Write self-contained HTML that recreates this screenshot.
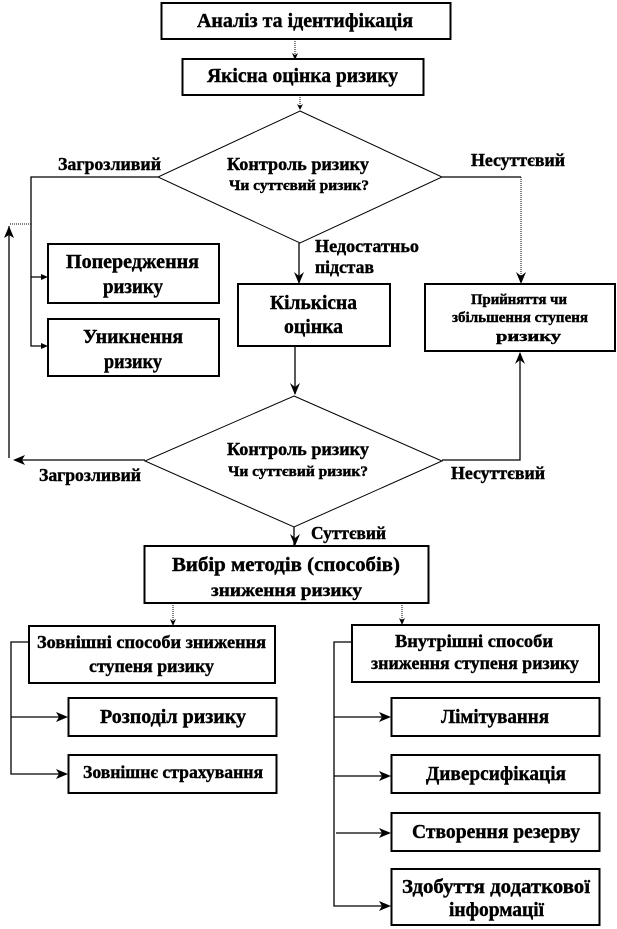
<!DOCTYPE html>
<html><head><meta charset="utf-8">
<style>
html,body{margin:0;padding:0;background:#fff;width:617px;height:929px;overflow:hidden}
svg{display:block}
text{font-family:"Liberation Serif","DejaVu Serif",serif;font-weight:bold;fill:#000;stroke:#000;stroke-width:.4}
.a{font-size:20px}.b{font-size:18px}.c{font-size:15px}
rect{fill:#fff;stroke:#000;stroke-width:2}
.l{fill:none;stroke:#000;stroke-width:1.3}
.t{fill:none;stroke:#000;stroke-width:1;stroke-dasharray:1 1}
.d{fill:#fff;stroke:#000;stroke-width:1}
.h{fill:#000;stroke:none}
</style></head><body>
<svg width="617" height="929" viewBox="0 0 617 929" xmlns="http://www.w3.org/2000/svg">
<!-- connectors -->
<path class="t" d="M295 39V58M300 97V109"/>
<path class="h" d="M295 60l-3-7 3 2 3-2zM300 110l-3-6 3 2 3-2z"/>
<path class="l" d="M158 177H31V346H46M31 277H46M9 226V458"/>
<path class="t" d="M31 224H9"/>
<path class="h" d="M48 277l-7-3v6zM48 346l-7-3v6zM9 226l-5 12 5-3 5 3z"/>
<path class="l" d="M299 243V283M442 177H521"/>
<path class="t" d="M521 177V283"/>
<path class="h" d="M299 284l-5-12 5 4 5-4zM521 284l-5-12 5 4 5-4z"/>
<path class="l" d="M295 346V394M294 527V545M145 460H16M442 460H520V353"/>
<path class="h" d="M295 395l-5-12 5 4 5-4zM295 546l-5-12 5 4 5-4zM13 460l12-5-3 5 3 5zM520 352l-5 12 5-4 5 4z"/>
<path class="t" d="M173 603V625M402 603V624"/>
<path class="h" d="M173 626l-3-7 3 2 3-2zM402 625l-3-7 3 2 3-2z"/>
<path class="l" d="M29 642H11V774H66M11 717H66M352 642H334V906H389M334 717H389M334 776H389M336 833H389"/>
<path class="h" d="M68 717l-12-5 3 5-3 5zM68 774l-12-5 3 5-3 5zM391 717l-12-5 3 5-3 5zM391 776l-12-5 3 5-3 5zM391 833l-12-5 3 5-3 5zM391 906l-12-5 3 5-3 5z"/>
<!-- diamonds -->
<polygon class="d" points="300,111 442,177 300,243 158,177"/>
<polygon class="d" points="294,396 442,461 294,527 145,461"/>
<!-- boxes -->
<rect x="161.500" y="3" width="289" height="36"/>
<rect x="182.500" y="59" width="241" height="36"/>
<rect x="48" y="244" width="171" height="59"/>
<rect x="48" y="319" width="171" height="57"/>
<rect x="238" y="284" width="152" height="62"/>
<rect x="425" y="284" width="190" height="67"/>
<rect x="144.500" y="546" width="284" height="57"/>
<rect x="29" y="626" width="246" height="57"/>
<rect x="352" y="625" width="247" height="57"/>
<rect x="68.500" y="698" width="208" height="38"/>
<rect x="68.500" y="755" width="208" height="38"/>
<rect x="391.500" y="698" width="208" height="38"/>
<rect x="391.500" y="755" width="208" height="38"/>
<rect x="391.500" y="813" width="208" height="38"/>
<rect x="391.500" y="869" width="208" height="56"/>
<!-- labels -->
<text class="a" x="197" y="27" textLength="216" lengthAdjust="spacingAndGlyphs">Аналіз  та ідентифікація</text>
<text class="a" x="207" y="82" textLength="191" lengthAdjust="spacingAndGlyphs">Якісна оцінка ризику</text>
<text class="b" x="227" y="170" textLength="142" lengthAdjust="spacingAndGlyphs">Контроль ризику</text>
<text class="c" x="229" y="190" textLength="140" lengthAdjust="spacingAndGlyphs">Чи суттєвий  ризик?</text>
<text class="b" x="58" y="170" textLength="103" lengthAdjust="spacingAndGlyphs">Загрозливий</text>
<text class="b" x="471" y="166" textLength="94" lengthAdjust="spacingAndGlyphs">Несуттєвий</text>
<text class="b" x="315" y="252" textLength="104" lengthAdjust="spacingAndGlyphs">Недостатньо</text>
<text class="b" x="315" y="273" textLength="59" lengthAdjust="spacingAndGlyphs">підстав</text>
<text class="a" x="66" y="268" textLength="133" lengthAdjust="spacingAndGlyphs">Попередження</text>
<text class="a" x="103" y="293" textLength="60" lengthAdjust="spacingAndGlyphs">ризику</text>
<text class="a" x="270" y="309" textLength="87" lengthAdjust="spacingAndGlyphs">Кількісна</text>
<text class="a" x="284" y="333" textLength="59" lengthAdjust="spacingAndGlyphs">оцінка</text>
<text class="c" x="471" y="304" textLength="96" lengthAdjust="spacingAndGlyphs">Прийняття чи</text>
<text class="c" x="452" y="322" textLength="136" lengthAdjust="spacingAndGlyphs">збільшення  ступеня</text>
<text class="c" x="496" y="341" textLength="65" lengthAdjust="spacingAndGlyphs">ризику</text>
<text class="a" x="83" y="343" textLength="100" lengthAdjust="spacingAndGlyphs">Уникнення</text>
<text class="a" x="104" y="368" textLength="58" lengthAdjust="spacingAndGlyphs">ризику</text>
<text class="b" x="227" y="455" textLength="142" lengthAdjust="spacingAndGlyphs">Контроль ризику</text>
<text class="c" x="228" y="476" textLength="140" lengthAdjust="spacingAndGlyphs">Чи суттєвий  ризик?</text>
<text class="b" x="39" y="481" textLength="102" lengthAdjust="spacingAndGlyphs">Загрозливий</text>
<text class="b" x="451" y="479" textLength="94" lengthAdjust="spacingAndGlyphs">Несуттєвий</text>
<text class="b" x="311" y="539" textLength="75" lengthAdjust="spacingAndGlyphs">Суттєвий</text>
<text class="a" x="172" y="571" textLength="228" lengthAdjust="spacingAndGlyphs">Вибір методів (способів)</text>
<text class="b" x="211" y="596" textLength="151" lengthAdjust="spacingAndGlyphs">зниження  ризику</text>
<text class="b" x="37" y="648" textLength="229" lengthAdjust="spacingAndGlyphs">Зовнішні способи зниження</text>
<text class="b" x="89" y="672" textLength="125" lengthAdjust="spacingAndGlyphs">ступеня ризику</text>
<text class="b" x="395" y="647" textLength="158" lengthAdjust="spacingAndGlyphs">Внутрішні  способи</text>
<text class="b" x="371" y="669" textLength="208" lengthAdjust="spacingAndGlyphs">зниження ступеня ризику</text>
<text class="a" x="100" y="723" textLength="146" lengthAdjust="spacingAndGlyphs">Розподіл ризику</text>
<text class="b" x="83" y="778" textLength="180" lengthAdjust="spacingAndGlyphs">Зовнішнє страхування</text>
<text class="a" x="441" y="723" textLength="108" lengthAdjust="spacingAndGlyphs">Лімітування</text>
<text class="a" x="426" y="780" textLength="140" lengthAdjust="spacingAndGlyphs">Диверсифікація</text>
<text class="a" x="412" y="838" textLength="168" lengthAdjust="spacingAndGlyphs">Створення резерву</text>
<text class="a" x="402" y="893" textLength="188" lengthAdjust="spacingAndGlyphs">Здобуття  додаткової</text>
<text class="a" x="449" y="916" textLength="95" lengthAdjust="spacingAndGlyphs">інформації</text>
</svg>
</body></html>
